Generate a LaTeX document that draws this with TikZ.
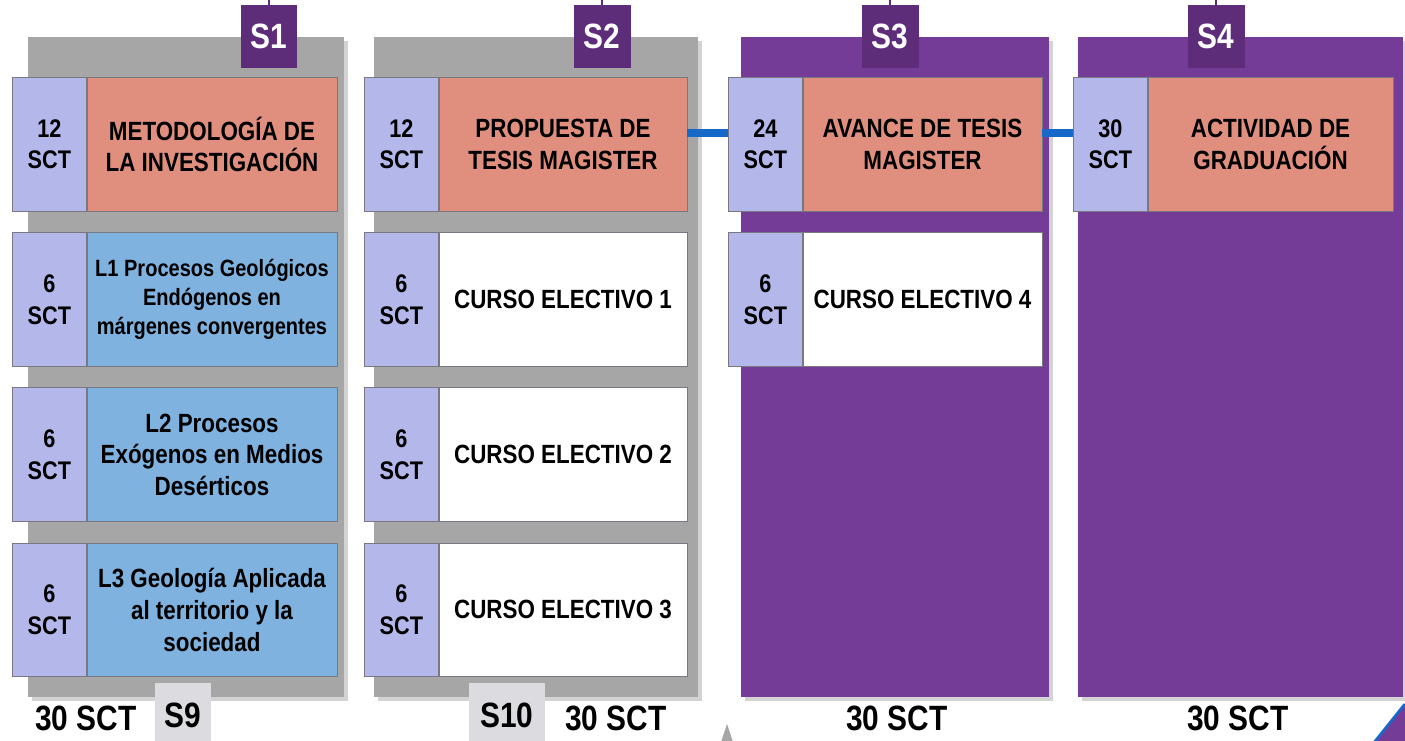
\documentclass[tikz,border=0pt]{standalone}
\usepackage{fontspec}
\setmainfont{Liberation Sans}[FakeStretch=0.85]
\usetikzlibrary{positioning, shadows}
\definecolor{panelgray}{RGB}{166,166,166}
\definecolor{semester}{RGB}{117,60,151}
\definecolor{tabpurple}{RGB}{94,45,122}
\definecolor{creditlav}{RGB}{180,183,233}
\definecolor{thesis}{RGB}{224,143,127}
\definecolor{lineblue}{RGB}{128,178,224}
\definecolor{linkblue}{RGB}{22,104,201}
\definecolor{bottomtab}{RGB}{220,220,224}
\definecolor{boxline}{RGB}{120,120,130}
\newcommand{\headfont}{\fontsize{15}{18}\selectfont\bfseries}
\newcommand{\smallhead}{\fontsize{13.4}{16.5}\selectfont\bfseries}
\newcommand{\creditfont}{\fontsize{14.5}{18}\selectfont\bfseries}
\newcommand{\bigfont}{\fontsize{20}{22}\selectfont\bfseries}

\begin{document}
\begin{tikzpicture}[x=0.02cm, y=-0.02cm,
      panel/.style={rectangle, anchor=north west, inner sep=0pt, minimum height=13.2cm,
                    drop shadow={opacity=0.35, shadow xshift=2pt, shadow yshift=-2pt}},
      tab/.style={rectangle, anchor=north, fill=tabpurple, text=white,
                  minimum width=1.14cm, minimum height=1.26cm, inner sep=0pt, font=\bigfont},
      credit/.style={rectangle, draw=boxline, fill=creditlav, minimum width=1.48cm,
                     minimum height=2.68cm, inner sep=0pt, align=center, font=\creditfont},
      course/.style={rectangle, draw=boxline, fill=white, minimum height=2.68cm,
                     inner sep=0pt, align=center, font=\headfont},
      total/.style={font=\bigfont, inner sep=0pt},
      link/.style={line width=4.5pt, color=linkblue},
      node distance=0.41cm
    ]
      \useasboundingbox (0,0) rectangle (1405,740);
      % semester panels
      \node[panel, fill=panelgray, minimum width=6.32cm] (p1) at (28,37) {};
      \node[panel, fill=panelgray, minimum width=6.48cm] (p2) at (374,37) {};
      \node[panel, fill=semester, minimum width=6.16cm] (p3) at (741,37) {};
      \node[panel, fill=semester, minimum width=6.5cm] (p4) at (1078,37) {};
      \node[tab] (t1) at (269,5) {S1};
      \node[tab] (t2) at (602,5) {S2};
      \node[tab] (t3) at (890,5) {S3};
      \node[tab] (t4) at (1216,5) {S4};
      \foreach \t in {t1,t2,t3,t4} \draw[tabpurple, line width=0.8pt] (\t.north) -- +(0,-6);

      % S1
      \node[credit, anchor=north west] (k1a) at (12,77) {12\\SCT};
      \node[course, fill=thesis, minimum width=5cm, right=0pt of k1a] (c1a) {METODOLOGÍA DE\\LA INVESTIGACIÓN};
      \node[credit, below=of k1a] (k1b) {6\\SCT};
      \node[course, fill=lineblue, minimum width=5cm, right=0pt of k1b, font=\smallhead]
        (c1b) {L1 Procesos Geológicos\\Endógenos en\\márgenes convergentes};
      \node[credit, below=of k1b] (k1c) {6\\SCT};
      \node[course, fill=lineblue, minimum width=5cm, right=0pt of k1c]
        (c1c) {L2 Procesos\\Exógenos en Medios\\Desérticos};
      \node[credit, below=of k1c] (k1d) {6\\SCT};
      \node[course, fill=lineblue, minimum width=5cm, right=0pt of k1d]
        (c1d) {L3 Geología Aplicada\\al territorio y la\\sociedad};

      % S2
      \node[credit, anchor=north west] (k2a) at (364,77) {12\\SCT};
      \node[course, fill=thesis, minimum width=4.96cm, right=0pt of k2a] (c2a) {PROPUESTA DE\\TESIS MAGISTER};
      \node[credit, below=of k2a] (k2b) {6\\SCT};
      \node[course, minimum width=4.96cm, right=0pt of k2b] (c2b) {CURSO ELECTIVO 1};
      \node[credit, below=of k2b] (k2c) {6\\SCT};
      \node[course, minimum width=4.96cm, right=0pt of k2c] (c2c) {CURSO ELECTIVO 2};
      \node[credit, below=of k2c] (k2d) {6\\SCT};
      \node[course, minimum width=4.96cm, right=0pt of k2d] (c2d) {CURSO ELECTIVO 3};

      % S3
      \node[credit, anchor=north west] (k3a) at (728,77) {24\\SCT};
      \node[course, fill=thesis, minimum width=4.78cm, right=0pt of k3a] (c3a) {AVANCE DE TESIS\\MAGISTER};
      \node[credit, below=of k3a] (k3b) {6\\SCT};
      \node[course, minimum width=4.78cm, right=0pt of k3b] (c3b) {CURSO ELECTIVO 4};

      % S4
      \node[credit, anchor=north west] (k4a) at (1073,77) {30\\SCT};
      \node[course, fill=thesis, minimum width=4.9cm, right=0pt of k4a] (c4a) {ACTIVIDAD DE\\GRADUACIÓN};

      \draw[link] ([yshift=0.23cm]c2a.east) -- ([yshift=0.23cm]k3a.west);
      \draw[link] ([yshift=0.23cm]c3a.east) -- ([yshift=0.23cm]k4a.west);

      % bottom
      \node[rectangle, anchor=north, fill=bottomtab, minimum width=1.14cm, minimum height=1.3cm,
            inner sep=0pt, font=\bigfont] (b9) at (183,683) {S9};
      \node[rectangle, anchor=north, fill=bottomtab, minimum width=1.52cm, minimum height=1.3cm,
            inner sep=0pt, font=\bigfont] (b10) at (507,683) {S10};
      \node[total] (s1tot) at (86,718) {30 SCT};
      \node[total] (s2tot) at (616,718) {30 SCT};
      \node[total] (s3tot) at (897,718) {30 SCT};
      \node[total] (s4tot) at (1238,718) {30 SCT};
      \fill[panelgray] (719,748) -- (727,724) -- (735,748) -- cycle;
      \filldraw[fill=semester, draw=linkblue, line width=1.5pt]
        (1368,750) -- (1404,705) -- (1420,705) -- (1420,750) -- cycle;
    \end{tikzpicture}
\end{document}
